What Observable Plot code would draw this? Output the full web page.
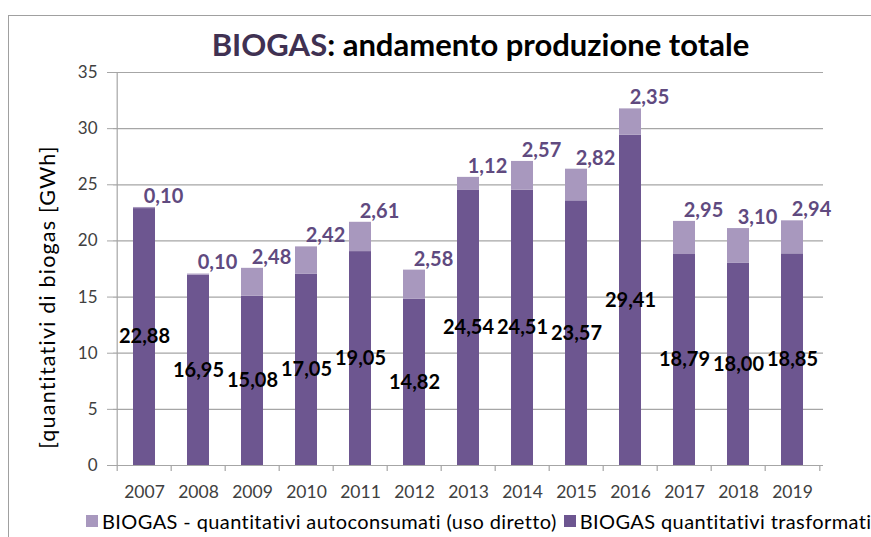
<!DOCTYPE html>
<html><head><meta charset="utf-8">
<script src="https://cdn.jsdelivr.net/npm/d3@7"></script>
<script src="https://cdn.jsdelivr.net/npm/@observablehq/plot@0.6"></script>
<style>
body{margin:0;background:#fff;font-family:Lato,"Open Sans",sans-serif;}
#wrap{position:relative;width:871px;height:537px;overflow:hidden;background:#fff;}
#frame{position:absolute;left:8px;top:15px;width:900px;height:600px;border-left:1.5px solid #a0a0a0;border-top:1.5px solid #a0a0a0;}
#title{position:absolute;left:0;top:25px;width:961px;text-align:center;font-weight:700;font-size:31px;color:#000;white-space:nowrap;}
#title .hl{color:#403152;}
#ytitle{position:absolute;left:47px;top:297px;transform:translate(-50%,-50%) rotate(-90deg);font-size:21.5px;letter-spacing:1.2px;color:#000;white-space:nowrap;}
#chart{position:absolute;left:0;top:60px;}
#legend{position:absolute;left:86px;top:509px;font-size:20px;letter-spacing:0.4px;color:#000;white-space:nowrap;display:flex;align-items:center;}
#legend .sw{display:inline-block;width:12px;height:12px;margin-right:4px;}
#legend .item{display:flex;align-items:center;margin-right:7px;}
</style>
</head><body>
<div id="wrap">
  <div id="frame"></div>
  <div id="title"><span class="hl">BIOGAS</span>: andamento produzione totale</div>
  <div id="ytitle">[quantitativi di biogas [GWh]</div>
  <div id="chart"></div>
  <div id="legend"></div>
</div>
<script>
const years = ["2007","2008","2009","2010","2011","2012","2013","2014","2015","2016","2017","2018","2019"];
const trasformati = [22.88,16.95,15.08,17.05,19.05,14.82,24.54,24.51,23.57,29.41,18.79,18.00,18.85];
const autoconsumati = [0.10,0.10,2.48,2.42,2.61,2.58,1.12,2.57,2.82,2.35,2.95,3.10,2.94];
const yTicks = [0,5,10,15,20,25,30,35];
const seriesAuto = "BIOGAS - quantitativi autoconsumati (uso diretto)";
const seriesTrasf = "BIOGAS quantitativi trasformati";

const light = "#a898be", dark = "#6d5690", labelPurple = "#604a7f", gridColor = "#a6a6a6";
const fmt = v => v.toFixed(2).replace(".", ",");

const rows = [];
years.forEach((y, i) => {
  rows.push({year: y, series: seriesTrasf, value: trasformati[i]});
  rows.push({year: y, series: seriesAuto, value: autoconsumati[i]});
});
const darkLabels = years.map((y, i) => ({year: y, pos: trasformati[i] / 2, text: fmt(trasformati[i])}));
const lightLabels = years.map((y, i) => ({year: y, pos: trasformati[i] + autoconsumati[i], text: fmt(autoconsumati[i])}));

const W = 871, H = 445, ML = 113, MR = 48, MT = 12, MB = 40;
const step = (W - ML - MR) / years.length;

const chart = Plot.plot({
  width: W, height: H,
  marginTop: MT, marginBottom: MB, marginLeft: ML, marginRight: MR,
  style: {fontFamily: "Lato, sans-serif", fontSize: "17px", color: "#404040", background: "transparent", overflow: "visible"},
  x: {type: "band", domain: years, paddingInner: 0.6, paddingOuter: 0.3, label: null},
  y: {domain: [0, 35], label: null},
  color: {domain: [seriesAuto, seriesTrasf], range: [light, dark]},
  marks: [
    Plot.ruleY(yTicks.filter(d => d > 0), {stroke: gridColor, strokeWidth: 1.2}),
    Plot.barY(rows, {x: "year", y: "value", fill: "series"}),
    Plot.ruleY([0], {stroke: gridColor, strokeWidth: 1.2}),
    Plot.ruleX([years[0]], {x: d => d, y1: 0, y2: 35, dx: -step / 2, stroke: gridColor, strokeWidth: 1.2}),
    Plot.ruleX(years, {x: d => d, y1: 0, y2: 0, insetBottom: -6, dx: -step / 2, stroke: gridColor, strokeWidth: 1.2}),
    Plot.ruleX([years[years.length - 1]], {x: d => d, y1: 0, y2: 0, insetBottom: -6, dx: step / 2, stroke: gridColor, strokeWidth: 1.2}),
    Plot.axisY({ticks: yTicks, tickSize: 6, tickPadding: 10, stroke: gridColor, fontSize: 17, label: null}),
    Plot.axisX({tickSize: 0, tickPadding: 20, fontSize: 17.5, label: null}),
    Plot.text(darkLabels, {x: "year", y: "pos", text: "text", fill: "#000", fontWeight: "bold", fontSize: 20}),
    Plot.text(lightLabels, {x: "year", y: "pos", text: "text", fill: labelPurple, fontWeight: "bold", fontSize: 20, dx: 19, dy: -11})
  ]
});
document.getElementById("chart").appendChild(chart);

const legend = document.getElementById("legend");
[[seriesAuto, light], [seriesTrasf, dark]].forEach(([name, c]) => {
  const it = document.createElement("span");
  it.className = "item";
  it.innerHTML = `<span class="sw" style="background:${c}"></span>${name}`;
  legend.appendChild(it);
});
</script>
</body></html>
